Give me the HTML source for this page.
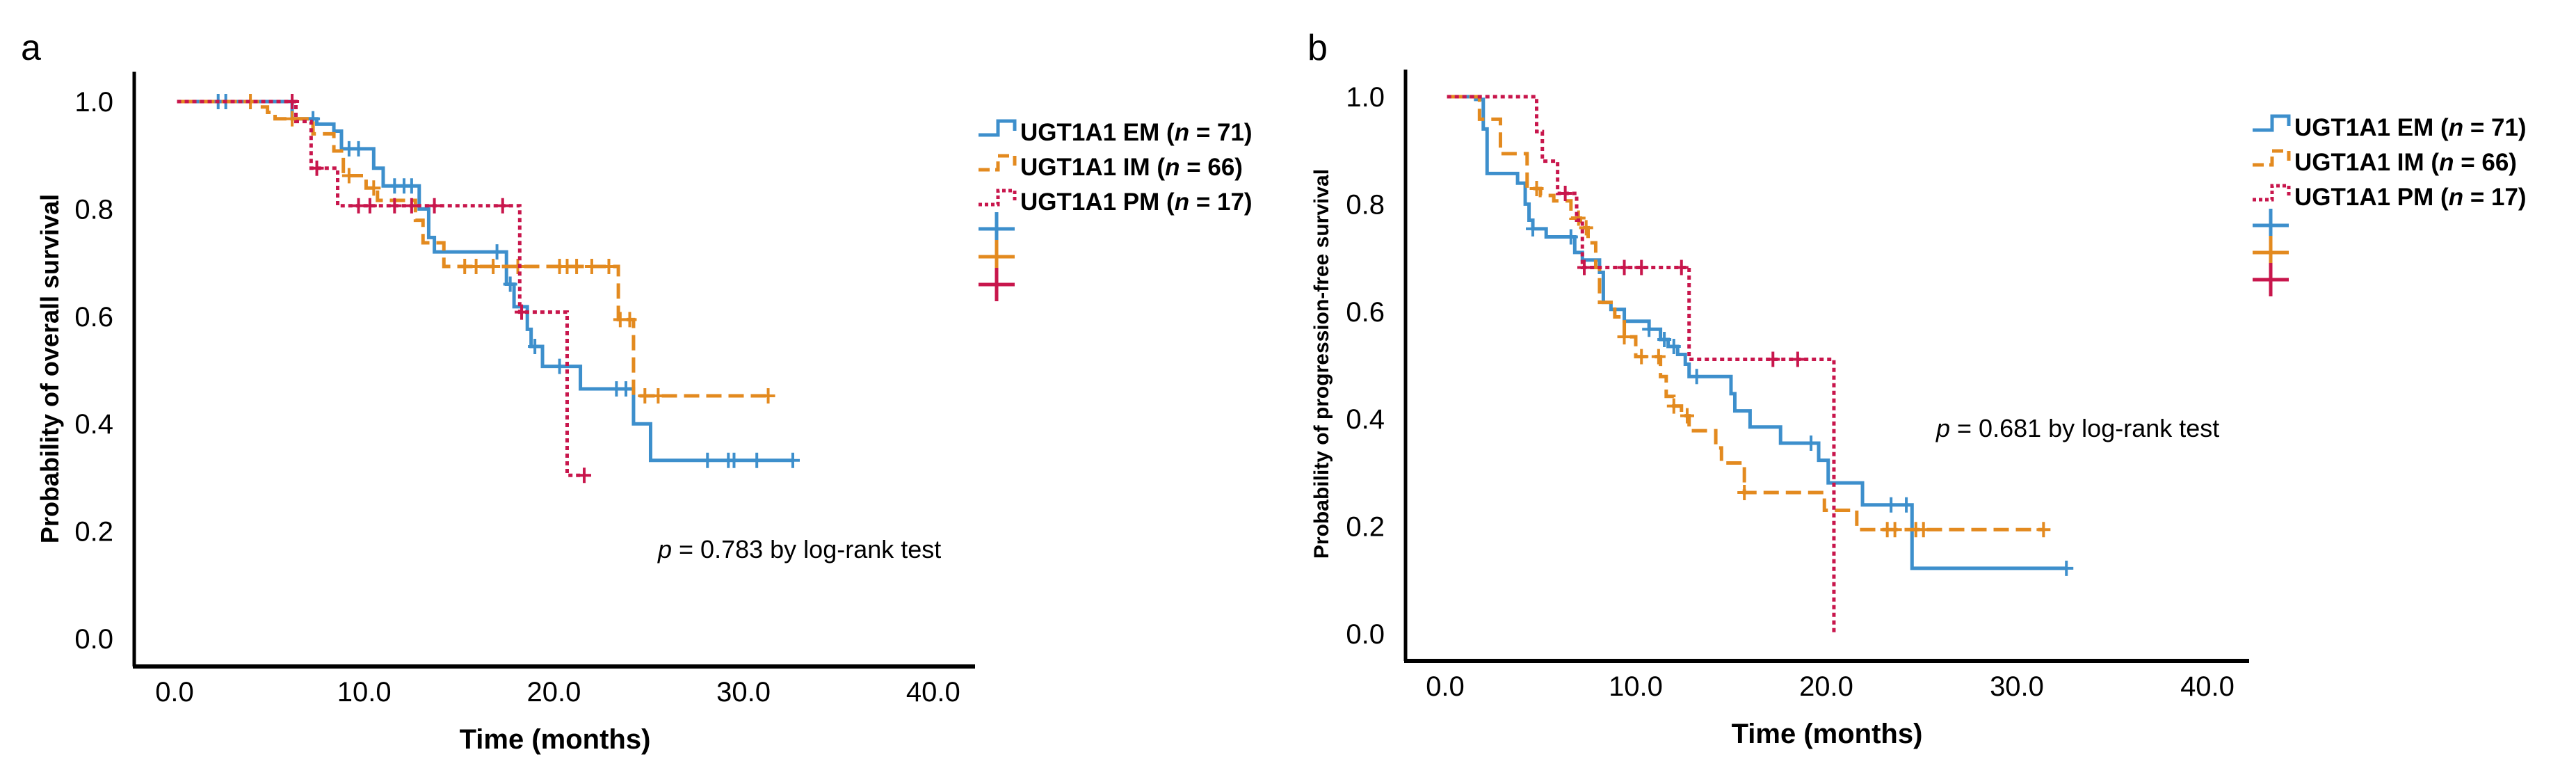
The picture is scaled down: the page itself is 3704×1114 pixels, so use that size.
<!DOCTYPE html>
<html><head><meta charset="utf-8"><style>
html,body{margin:0;padding:0;background:#fff;}
svg{display:block;font-family:"Liberation Sans",Arial,sans-serif;}
</style></head><body>
<svg id="chart" width="3704" height="1114" viewBox="0 0 3704 1114" xmlns="http://www.w3.org/2000/svg">
<g id="pa"></g>
<g id="pb"></g>
</svg>
<script>
// ---- Data ----
const xTicks = [0, 10, 20, 30, 40];
const xTickLabels = ["0.0", "10.0", "20.0", "30.0", "40.0"];
const yTicks = [0, 0.2, 0.4, 0.6, 0.8, 1.0];
const yTickLabels = ["0.0", "0.2", "0.4", "0.6", "0.8", "1.0"];
const legendLabels = ["UGT1A1 EM", "UGT1A1 IM", "UGT1A1 PM"];
const legendN = ["71", "66", "17"];

// Panel a: overall survival
const aEMStart = 0.13, aEMEnd = 32.6;
const aEMSteps = [[6.2,0.968],[7.5,0.958],[8.4,0.945],[8.8,0.912],[10.5,0.876],[11.0,0.843],[12.9,0.80],[13.4,0.747],[13.7,0.72],[17.5,0.66],[17.9,0.618],[18.6,0.576],[18.8,0.544],[19.4,0.507],[21.4,0.465],[24.2,0.40],[25.1,0.332]];
const aEMCens = [2.3,2.7,7.3,9.2,9.7,11.6,12.1,12.5,17.0,17.7,19.0,20.3,23.3,23.8,28.1,29.2,29.5,30.7,32.6];
const aIMStart = 0.13, aIMEnd = 31.3;
const aIMSteps = [[4.5,0.99],[4.9,0.98],[5.3,0.968],[7.3,0.94],[8.4,0.908],[8.9,0.862],[10.1,0.839],[10.7,0.816],[12.7,0.779],[13.1,0.737],[14.2,0.693],[23.4,0.594],[24.2,0.452]];
const aIMCens = [4.0,6.2,9.2,10.5,15.3,15.9,16.8,18.1,20.3,20.7,21.2,22.0,22.9,23.5,24.0,24.8,25.5,31.3];
const aPMStart = 0.13, aPMEnd = 21.6;
const aPMSteps = [[6.4,0.963],[7.2,0.876],[8.6,0.806],[18.2,0.608],[20.7,0.304]];
const aPMCens = [6.2,7.5,9.7,10.3,11.6,12.5,13.7,17.3,18.3,21.6];

// Panel b: progression-free survival
const bEMStart = 0.1, bEMEnd = 32.6;
const bEMSteps = [[1.6,0.995],[2.0,0.94],[2.2,0.857],[3.8,0.839],[4.2,0.80],[4.4,0.77],[4.6,0.754],[5.3,0.739],[6.8,0.71],[7.2,0.696],[8.1,0.673],[8.3,0.617],[8.7,0.604],[9.4,0.582],[10.7,0.567],[11.3,0.548],[11.7,0.535],[12.2,0.52],[12.6,0.502],[12.8,0.479],[15.0,0.447],[15.2,0.415],[16.0,0.385],[17.6,0.355],[19.6,0.323],[20.1,0.281],[21.9,0.24],[24.5,0.122]];
const bEMCens = [4.6,6.6,10.7,11.5,12.0,13.2,19.2,23.4,24.2,32.6];
const bIMStart = 0.1, bIMEnd = 31.4;
const bIMSteps = [[1.8,0.958],[2.9,0.894],[4.3,0.829],[5.0,0.816],[5.7,0.806],[6.6,0.774],[7.1,0.756],[7.5,0.728],[7.9,0.682],[8.1,0.617],[8.9,0.59],[9.4,0.553],[10.0,0.516],[11.3,0.479],[11.6,0.442],[12.0,0.424],[12.4,0.406],[12.8,0.378],[14.2,0.346],[14.5,0.318],[15.7,0.263],[19.9,0.23],[21.6,0.194]];
const bIMCens = [4.8,7.0,7.4,9.4,10.3,11.2,12.0,12.7,15.7,23.2,23.6,24.7,25.1,31.4];
const bPMStart = 0.1, bPMEnd = 20.4;
const bPMSteps = [[4.8,0.935],[5.1,0.88],[5.9,0.82],[6.9,0.77],[7.2,0.682],[12.8,0.511],[20.4,0.0]];
const bPMCens = [6.3,7.3,9.4,10.3,12.4,17.2,18.5];

const NS = "http://www.w3.org/2000/svg";
const COLORS = ["#3d8fcc", "#e38a1f", "#c8164c"];
const DASH = ["none", "22,10", "6,5"];

function mk(tag, attrs, parent) {
  const e = document.createElementNS(NS, tag);
  for (const k in attrs) e.setAttribute(k, attrs[k]);
  parent.appendChild(e);
  return e;
}
function survAt(steps, t) {
  let s = 1;
  for (const st of steps) { if (st[0] <= t) s = st[1]; }
  return s;
}

function panel(g, cfg) {
  const X = t => cfg.x0 + t * cfg.xs;
  const Y = s => cfg.y0 - s * cfg.ys;
  // axes
  const ya = mk('line', {x1: cfg.ax, y1: cfg.axTop, x2: cfg.ax, y2: cfg.axBot, stroke: '#000', 'stroke-width': 5}, g);
  
  
  const xa = mk('line', {x1: cfg.ax - 2, y1: cfg.axBot, x2: cfg.axRight, y2: cfg.axBot, stroke: '#000', 'stroke-width': 6}, g);
  
  
  xTicks.forEach((v, i) => {
    const t = mk('text', {x: X(v), y: cfg.axBot + 50, 'font-size': 40, 'text-anchor': 'middle', fill: '#000'}, g);
    
    
    t.textContent = xTickLabels[i];
  });
  yTicks.forEach((v, i) => {
    const t = mk('text', {x: cfg.ax - 30, y: Y(v) + 14, 'font-size': 40, 'text-anchor': 'end', fill: '#000'}, g);
    
    
    t.textContent = yTickLabels[i];
  });
  const xt = mk('text', {x: cfg.xTitleX, y: cfg.axBot + 118, 'font-size': 40, 'font-weight': 'bold', 'text-anchor': 'middle', fill: '#000'}, g);
  
  
  xt.textContent = 'Time (months)';
  const yt = mk('text', {x: 0, y: 0, 'font-size': cfg.yTitleSize, 'font-weight': 'bold', 'text-anchor': 'middle', fill: '#000', transform: 'translate(' + cfg.yTitleX + ',' + cfg.yTitleY + ') rotate(-90)'}, g);
  
  
  yt.textContent = cfg.yTitle;
  const pl = mk('text', {x: cfg.letterX, y: 86, 'font-size': 52, fill: '#000'}, g);
  
  
  pl.textContent = cfg.letter;
  // p-value
  const pv = mk('text', {x: cfg.pX, y: cfg.pY, 'font-size': 36, fill: '#000'}, g);
  
  
  const pi = mk('tspan', {'font-style': 'italic'}, pv); pi.textContent = 'p';
  const pr = mk('tspan', {}, pv); pr.textContent = ' = ' + cfg.pval + ' by log-rank test';
  // series
  cfg.series.forEach((sr, k) => {
    let d = 'M' + X(sr.start) + ',' + Y(1);
    let s = 1;
    sr.steps.forEach(st => { d += ' H' + X(st[0]) + ' V' + Y(st[1]); s = st[1]; });
    d += ' H' + X(sr.end);
    const p = mk('path', {d: d, fill: 'none', stroke: COLORS[k], 'stroke-width': 5, 'stroke-dasharray': DASH[k]}, g);
    
    
    sr.cens.forEach(c => {
      const yy = Y(survAt(sr.steps, c)), xx = X(c);
      const m = mk('path', {d: 'M' + (xx - 10) + ',' + yy + ' H' + (xx + 10) + ' M' + xx + ',' + (yy - 11) + ' V' + (yy + 11), stroke: COLORS[k], 'stroke-width': 4}, g);
      
      
    });
  });
  // legend
  const lg = mk('g', {}, g);
  
  
  legendLabels.forEach((lab, k) => {
    const ly = cfg.legY[k], lx = cfg.legX;
    const ic = mk('path', {d: 'M' + lx + ',' + (ly + 4) + ' H' + (lx + 28) + ' V' + (ly - 16) + ' H' + (lx + 52) + ' V' + (ly - 2), fill: 'none', stroke: COLORS[k], 'stroke-width': 5, 'stroke-dasharray': DASH[k] === 'none' ? 'none' : (k === 1 ? '16,8' : '5,4')}, lg);
    
    
    const t = mk('text', {x: lx + 60, y: ly + 12, 'font-size': 35, 'font-weight': 'bold', fill: '#000'}, lg);
    
    
    const a = mk('tspan', {}, t); a.textContent = lab + ' (';
    const b = mk('tspan', {'font-style': 'italic'}, t); b.textContent = 'n';
    const c = mk('tspan', {}, t); c.textContent = ' = ' + legendN[k] + ')';
    const cy = cfg.legY[k + 3], cx = lx + 26;
    const cm = mk('path', {d: 'M' + (cx - 26) + ',' + cy + ' H' + (cx + 26) + ' M' + cx + ',' + (cy - 24) + ' V' + (cy + 24), stroke: COLORS[k], 'stroke-width': 5}, lg);
    
    
  });
}

panel(document.getElementById('pa'), {
  x0: 251, xs: 27.27, y0: 918, ys: 772,
  ax: 193, axTop: 103, axBot: 958, axRight: 1402,
  xTitleX: 798, yTitle: 'Probability of overall survival', yTitleSize: 36, yTitleX: 84, yTitleY: 530,
  letter: 'a', letterX: 30, pX: 946, pY: 802, pval: '0.783',
  legX: 1407, legY: [190, 240, 290, 329, 369, 409], series: [
    {start: aEMStart, end: aEMEnd, steps: aEMSteps, cens: aEMCens},
    {start: aIMStart, end: aIMEnd, steps: aIMSteps, cens: aIMCens},
    {start: aPMStart, end: aPMEnd, steps: aPMSteps, cens: aPMCens}]
});
panel(document.getElementById('pb'), {
  x0: 2078, xs: 27.4, y0: 911, ys: 772,
  ax: 2021, axTop: 100, axBot: 950, axRight: 3234,
  xTitleX: 2627, yTitle: 'Probability of progression-free survival', yTitleSize: 30, yTitleX: 1910, yTitleY: 523,
  letter: 'b', letterX: 1880, pX: 2784, pY: 628, pval: '0.681',
  legX: 3239, legY: [183, 233, 283, 324, 363, 402], series: [
    {start: bEMStart, end: bEMEnd, steps: bEMSteps, cens: bEMCens},
    {start: bIMStart, end: bIMEnd, steps: bIMSteps, cens: bIMCens},
    {start: bPMStart, end: bPMEnd, steps: bPMSteps, cens: bPMCens}]
});
</script>
</body></html>
